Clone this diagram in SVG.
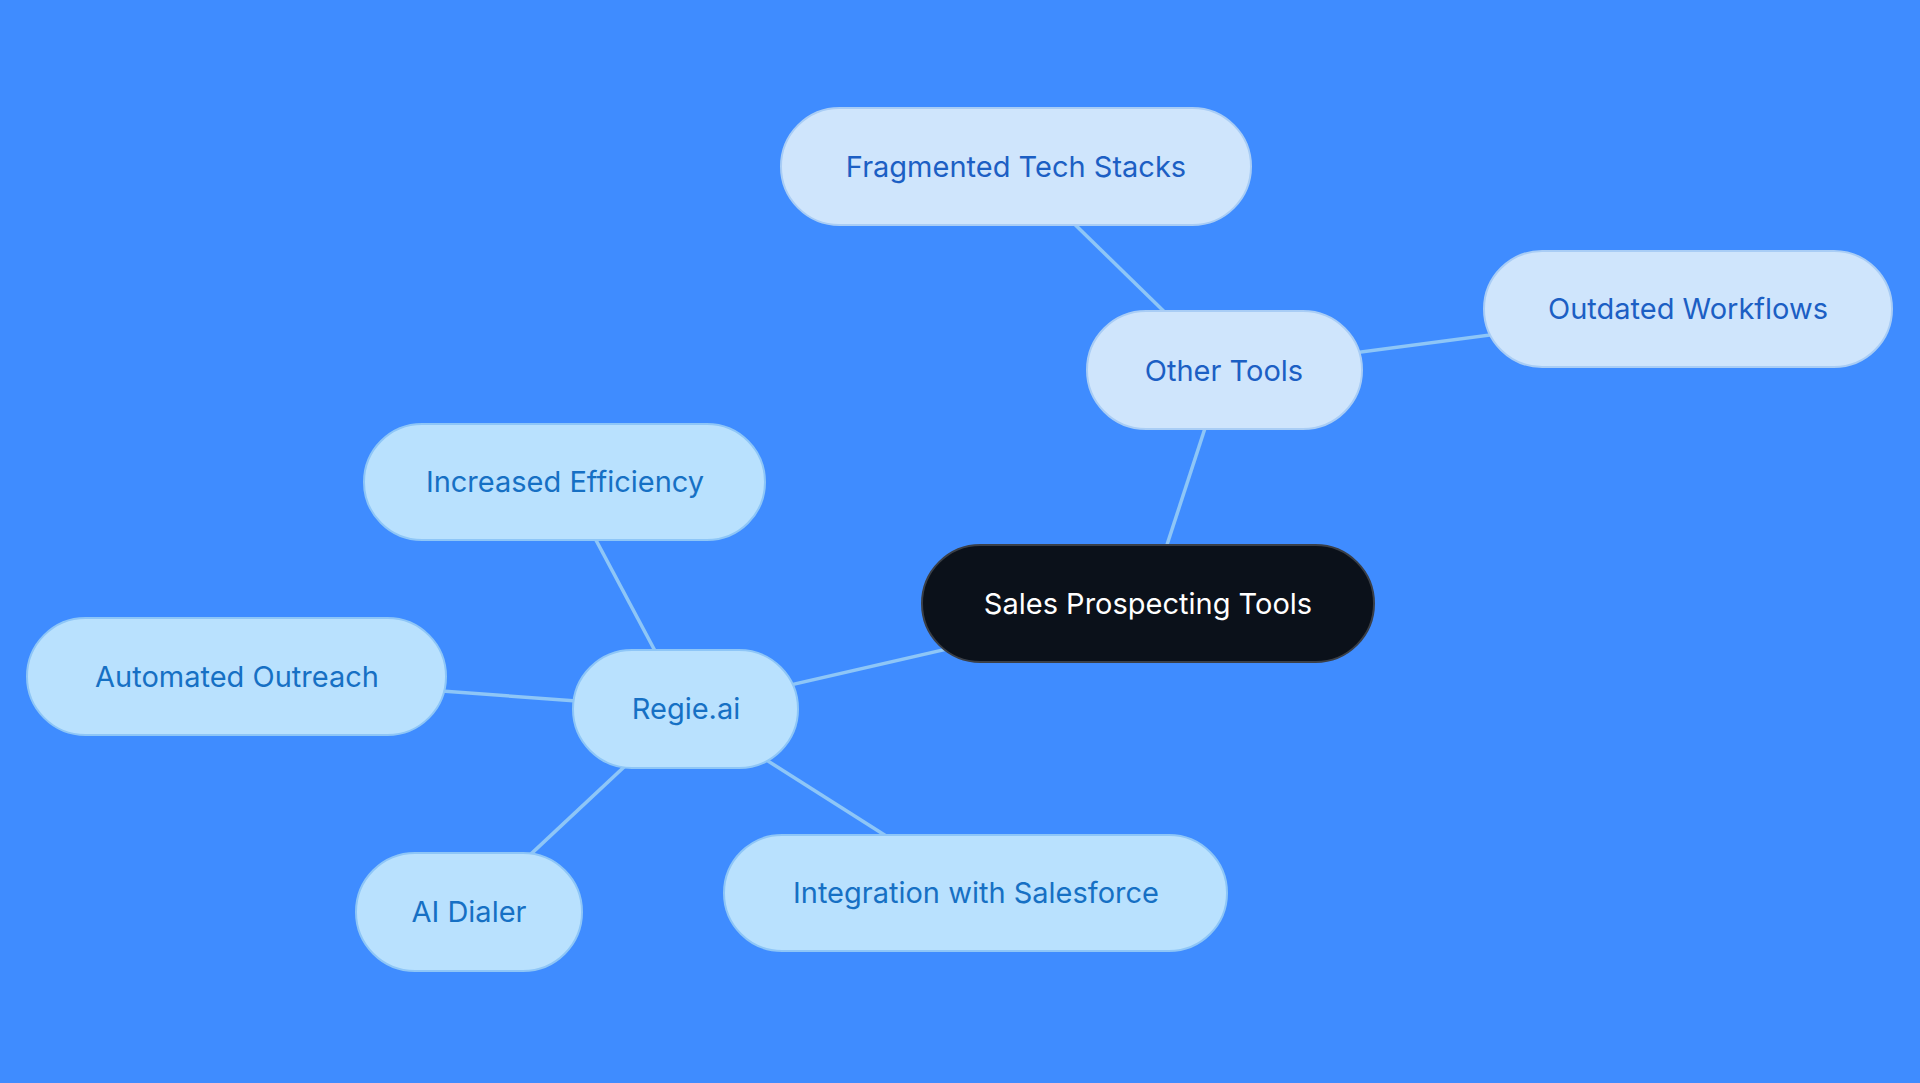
<svg xmlns="http://www.w3.org/2000/svg" width="1920" height="1083" viewBox="0 0 1920 1083">
<style>
.e{stroke:#8ec6f7;stroke-width:3.5;fill:none}
.a rect{fill:#cfe5fc;stroke:#a9cdf5;stroke-width:2}
.a text{fill:#1c5fc4}
.b rect{fill:#b9e1fe;stroke:#8ec6f7;stroke-width:2}
.b text{fill:#1670c4}
text{font-family:Inter,"Noto Sans",sans-serif;font-size:29px;text-anchor:middle;dominant-baseline:central}
</style>
<rect width="1920" height="1083" fill="#3f8cff"/>
<g id="connectors">
<line class="e" x1="1148" y1="603" x2="1224" y2="370"/>
<line class="e" x1="1148" y1="603" x2="686" y2="709"/>
<line class="e" x1="1224" y1="370" x2="1016" y2="167"/>
<line class="e" x1="1224" y1="370" x2="1688" y2="309"/>
<line class="e" x1="686" y1="709" x2="565" y2="482"/>
<line class="e" x1="686" y1="709" x2="237" y2="676"/>
<line class="e" x1="686" y1="709" x2="469" y2="912"/>
<line class="e" x1="686" y1="709" x2="976" y2="893"/>
</g>
<g id="sales"><rect x="922" y="545" width="452" height="117" rx="58.5" fill="#0b111a" stroke="#3a3f47" stroke-width="2"/><text x="1148" y="603" fill="#ffffff">Sales Prospecting Tools</text></g>
<g id="other" class="a"><rect x="1087" y="311" width="275" height="118" rx="59"/><text x="1224" y="370">Other Tools</text></g>
<g id="frag" class="a"><rect x="781" y="108" width="470" height="117" rx="58.5"/><text x="1016" y="166">Fragmented Tech Stacks</text></g>
<g id="outdated" class="a"><rect x="1484" y="251" width="408" height="116" rx="58"/><text x="1688" y="308">Outdated Workflows</text></g>
<g id="regie" class="b"><rect x="573" y="650" width="225" height="118" rx="59"/><text x="686" y="708">Regie.ai</text></g>
<g id="incr" class="b"><rect x="364" y="424" width="401" height="116" rx="58"/><text x="565" y="481">Increased Efficiency</text></g>
<g id="auto" class="b"><rect x="27" y="618" width="419" height="117" rx="58.5"/><text x="237" y="676">Automated Outreach</text></g>
<g id="dialer" class="b"><rect x="356" y="853" width="226" height="118" rx="59"/><text x="469" y="911">AI Dialer</text></g>
<g id="integ" class="b"><rect x="724" y="835" width="503" height="116" rx="58"/><text x="976" y="892">Integration with Salesforce</text></g>
</svg>
